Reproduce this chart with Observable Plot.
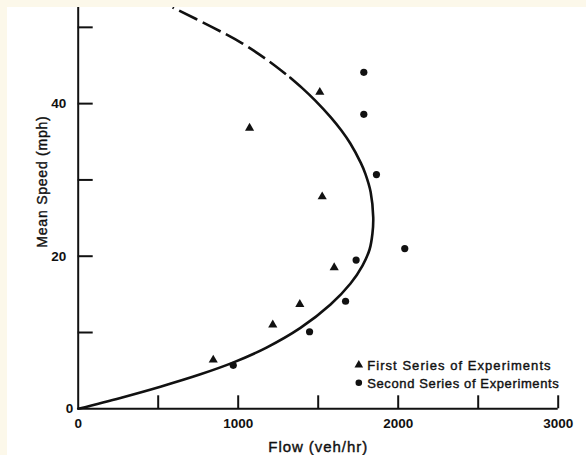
<!DOCTYPE html>
<html>
<head>
<meta charset="utf-8">
<script src="https://cdn.jsdelivr.net/npm/d3@7"></script>
<script src="https://cdn.jsdelivr.net/npm/@observablehq/plot@0.6"></script>
<style>
  html, body { margin: 0; padding: 0; background: #fcf8ea; width: 586px; height: 455px; overflow: hidden; }
  #wrap { position: absolute; left: 7px; top: 7px; width: 579px; height: 448px; background: #ffffff; }
  #wrap svg { display: block; }
</style>
</head>
<body>
<div id="wrap"></div>
<script>
// ---- Data ----
// Fitted speed–flow curve (solid part), flow in veh/hr, speed in mph
const curveSolidFlow  = [0, 264, 514, 764, 971, 1177, 1389, 1577, 1702, 1777, 1821, 1839, 1844, 1828, 1795, 1767, 1700, 1644, 1579, 1482, 1397, 1326];
const curveSolidSpeed = [0, 1.43, 2.9, 4.52, 6.08, 8.02, 10.6, 13.67, 16.42, 18.78, 20.88, 22.98, 25.07, 28.4, 30.8, 32.2, 34.8, 36.5, 38.2, 40.4, 42.1, 43.4];
// Extrapolated (dashed) part of the curve
const curveDashedFlow  = [1326, 1190, 1025, 840, 590];
const curveDashedSpeed = [43.4, 45.6, 47.9, 50.0, 52.6];

// First series of experiments (triangles)
const firstFlow  = [844, 1071, 1216, 1385, 1510, 1525, 1600];
const firstSpeed = [6.4, 36.8, 11.0, 13.7, 41.5, 27.8, 18.5];

// Second series of experiments (circles)
const secondFlow  = [969, 1446, 1671, 1737, 1785, 1785, 1864, 2041];
const secondSpeed = [5.7, 10.1, 14.1, 19.5, 44.1, 38.6, 30.7, 21.0];

// Axes
const xDomain = [0, 3000];
const yDomain = [0, 52.6];
const xTicks = [500, 1000, 1500, 2000, 2500, 3000];
const xTickLabels = [0, 1000, 2000, 3000];
const yTicks = [10, 20, 30, 40, 50];
const yTickLabels = [20, 40];
const yZeroLabel = [0];
const xTitle = "Flow (veh/hr)";
const yTitle = "Mean Speed (mph)";
const legendLabels = ["First Series of Experiments", "Second Series of Experiments"];

// ---- Chart ----
const ink = "#111";
const font = "'Liberation Sans', Arial, Helvetica, sans-serif";
const plain = d => `${d}`;

const chart = Plot.plot({
  width: 579,
  height: 448,
  marginLeft: 70.7,
  marginRight: 28.3,
  marginTop: 0,
  marginBottom: 46.7,
  style: { background: "#ffffff", color: ink, fontFamily: font, overflow: "visible" },
  x: { domain: xDomain, label: null },
  y: { domain: yDomain, label: null },
  marks: [
    // axis lines
    Plot.ruleX([0], { stroke: ink, strokeWidth: 2 }),
    Plot.ruleY([0], { stroke: ink, strokeWidth: 2 }),
    // inward tick marks
    Plot.axisX(xTicks, { tickSize: 13, dy: -13, tickFormat: () => "", stroke: ink, strokeWidth: 2 }),
    Plot.axisY(yTicks, { tickSize: 15, dx: 15, tickFormat: () => "", stroke: ink, strokeWidth: 2 }),
    // tick labels
    Plot.axisX(xTickLabels, { tickSize: 0, tickPadding: 10, tickFormat: plain, fontSize: 13.5, fontWeight: "bold", fill: ink, fontFamily: font }),
    Plot.axisY(yTickLabels, { tickSize: 0, tickPadding: 12, tickFormat: plain, fontSize: 13.5, fontWeight: "bold", fill: ink, fontFamily: font }),
    Plot.axisY(yZeroLabel, { tickSize: 0, tickPadding: 5, tickFormat: plain, fontSize: 13.5, fontWeight: "bold", fill: ink, fontFamily: font }),
    // axis titles
    Plot.text([xTitle], { frameAnchor: "bottom", dy: 38, text: d => d, textAnchor: "middle", lineAnchor: "middle", fontSize: 15, fill: ink, stroke: ink, strokeWidth: 0.4, fontFamily: font }),
    Plot.text([yTitle], { frameAnchor: "left", rotate: -90, dx: -35.7, dy: -26.6, text: d => d, textAnchor: "middle", lineAnchor: "middle", fontSize: 14, fill: ink, stroke: ink, strokeWidth: 0.4, fontFamily: font }),
    // curve
    Plot.line(curveSolidFlow, { x: d => d, y: (d, i) => curveSolidSpeed[i], curve: "catmull-rom", stroke: ink, strokeWidth: 2.6 }),
    Plot.line(curveDashedFlow, { x: d => d, y: (d, i) => curveDashedSpeed[i], curve: "catmull-rom", stroke: ink, strokeWidth: 2.6, strokeLinecap: "butt", strokeDasharray: "20,6", strokeDashoffset: 20, clip: true }),
    // data points
    Plot.dot(firstFlow, { x: d => d, y: (d, i) => firstSpeed[i], symbol: "triangle", r: 3.4, fill: ink }),
    Plot.dot(secondFlow, { x: d => d, y: (d, i) => secondSpeed[i], symbol: "circle", r: 3.6, fill: ink }),
    // legend
    Plot.dot([legendLabels[0]], { frameAnchor: "bottom-right", dx: -199.4, dy: -43.7, symbol: "triangle", r: 3.2, fill: ink }),
    Plot.dot([legendLabels[1]], { frameAnchor: "bottom-right", dx: -199.4, dy: -26, symbol: "circle", r: 3.3, fill: ink }),
    Plot.text([legendLabels[0]], { frameAnchor: "bottom-right", dx: -191, dy: -43.3, text: d => d, textAnchor: "start", lineAnchor: "middle", fontSize: 13, fill: ink, stroke: ink, strokeWidth: 0.4, fontFamily: font }),
    Plot.text([legendLabels[1]], { frameAnchor: "bottom-right", dx: -191, dy: -25.3, text: d => d, textAnchor: "start", lineAnchor: "middle", fontSize: 13, fill: ink, stroke: ink, strokeWidth: 0.4, fontFamily: font })
  ]
});

document.getElementById("wrap").appendChild(chart);

// letter spacing to match the wide typewriter-style lettering
const spacing = new Map([
  [legendLabels[0], "1.05px"], [legendLabels[1], "0.62px"],
  [xTitle, "0.95px"], [yTitle, "0.77px"]
]);
d3.select(chart).selectAll("text").each(function () {
  const s = spacing.get(this.textContent);
  if (s) this.style.letterSpacing = s;
});
</script>
</body>
</html>
